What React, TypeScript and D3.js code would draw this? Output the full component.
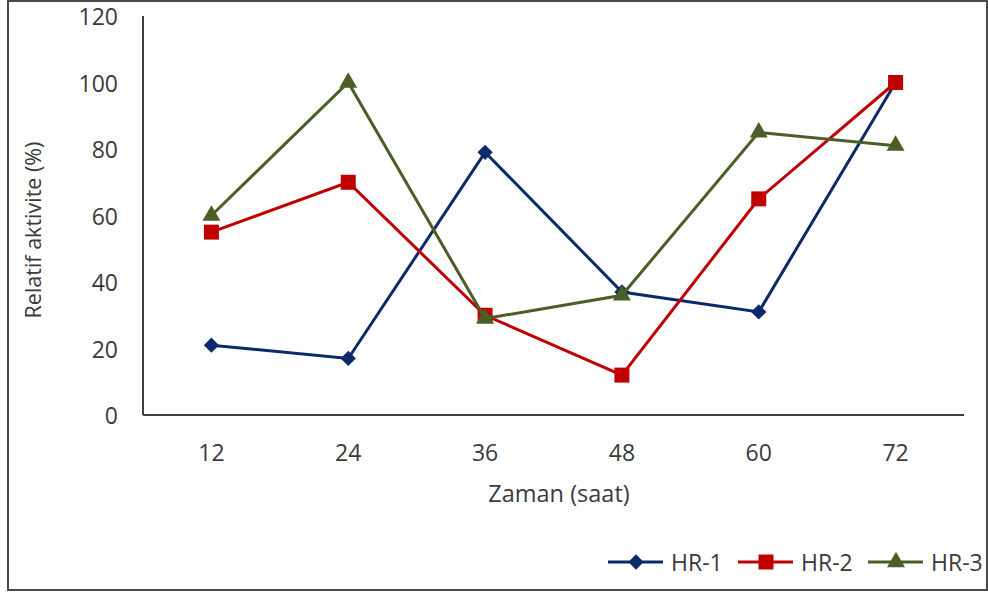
import React from "react";
import * as d3 from "d3";

// Sampling times (hours) and relative activity (%) for each isolate
const hours = ["12", "24", "36", "48", "60", "72"];
const hr1 = [21, 17, 79, 37, 31, 100];
const hr2 = [55, 70, 30, 12, 65, 100];
const hr3 = [60, 100, 29, 36, 85, 81];
const yTicks = [0, 20, 40, 60, 80, 100, 120];
const seriesNames = ["HR-1", "HR-2", "HR-3"];

const W = 988;
const H = 593;
const FONT = "'Open Sans', sans-serif";
const TEXT = "#3a3a3a";

const series = [
  { name: seriesNames[0], values: hr1, color: "#0c2a6a", marker: "diamond" },
  { name: seriesNames[1], values: hr2, color: "#c00000", marker: "square" },
  { name: seriesNames[2], values: hr3, color: "#4a5e26", marker: "triangle" },
];

function markerPath(kind: string, s: number) {
  if (kind === "diamond") return d3.symbol(d3.symbolDiamond2, s * s * 0.66)();
  if (kind === "square") return `M${-s / 2},${-s / 2}h${s}v${s}h${-s}Z`;
  return d3.symbol(d3.symbolTriangle, s * s * 0.62)();
}

export default function App() {
  const x = d3.scaleBand().domain(hours).range([143, 964]);
  const y = d3.scaleLinear().domain([0, 120]).range([415, 16]);
  const cx = (h: string) => (x(h) as number) + x.bandwidth() / 2;
  const line = d3
    .line<number>()
    .x((_, i) => cx(hours[i]))
    .y((v) => y(v));

  const legendX = [608, 738, 868];

  return (
    <svg
      width={W}
      height={H}
      style={{ position: "absolute", left: 0, top: 0, background: "#fff" }}
    >
      <rect x={8} y={1} width={979} height={589} fill="#fff" stroke="#4a4a4a" strokeWidth={2} />

      {/* axes */}
      <line x1={143} x2={143} y1={y(120)} y2={y(0)} stroke="#404040" strokeWidth={2} />
      <line x1={143} x2={964} y1={y(0)} y2={y(0)} stroke="#404040" strokeWidth={2} />

      {yTicks.map((t) => (
        <text
          key={t}
          x={118}
          y={y(t)}
          textAnchor="end"
          dominantBaseline="central"
          fontFamily={FONT}
          fontSize={23}
          fill={TEXT}
        >
          {t}
        </text>
      ))}
      {hours.map((h) => (
        <text
          key={h}
          x={cx(h)}
          y={452}
          textAnchor="middle"
          dominantBaseline="central"
          fontFamily={FONT}
          fontSize={23}
          fill={TEXT}
        >
          {h}
        </text>
      ))}

      <text
        x={559}
        y={493}
        textAnchor="middle"
        dominantBaseline="central"
        fontFamily={FONT}
        fontSize={23.5}
        fill={TEXT}
      >
        Zaman (saat)
      </text>
      <text
        transform={`translate(32,230) rotate(-90)`}
        textAnchor="middle"
        dominantBaseline="central"
        fontFamily={FONT}
        fontSize={21.5}
        fill={TEXT}
      >
        Relatif aktivite (%)
      </text>

      {series.map((s) => (
        <g key={s.name}>
          <path d={line(s.values) as string} fill="none" stroke={s.color} strokeWidth={3} />
          {s.values.map((v, i) => (
            <path
              key={i}
              d={markerPath(s.marker, 15) as string}
              transform={`translate(${cx(hours[i])},${y(v)})`}
              fill={s.color}
            />
          ))}
        </g>
      ))}

      {/* legend */}
      {series.map((s, i) => (
        <g key={s.name} transform={`translate(${legendX[i]},562)`}>
          <line x1={0} x2={55} y1={0} y2={0} stroke={s.color} strokeWidth={3} />
          <path d={markerPath(s.marker, 15) as string} transform="translate(28,0)" fill={s.color} />
          <text
            x={63}
            y={0}
            dominantBaseline="central"
            fontFamily={FONT}
            fontSize={23}
            fill={TEXT}
          >
            {s.name}
          </text>
        </g>
      ))}
    </svg>
  );
}
